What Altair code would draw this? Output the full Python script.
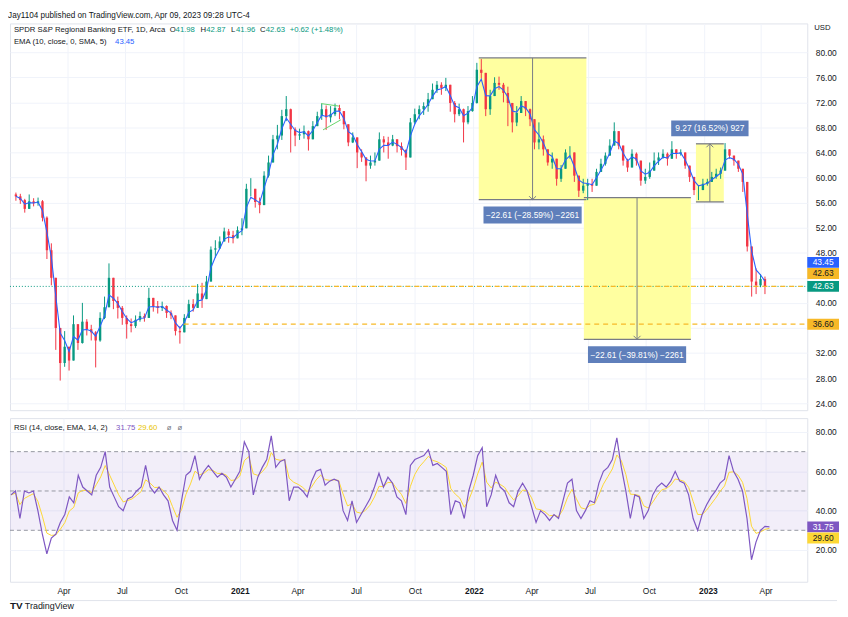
import altair as alt
import pandas as pd
import numpy as np

# ---------------- data (weekly bars) ----------------
first_date = "2020-01-10"
first_open = 57.3
close = [
    57.0, 56.4, 55.0, 56.2, 55.9, 56.2, 53.6, 48.4, 44.0, 36.0,
    30.4, 33.0, 30.8, 36.6, 33.6, 37.0, 35.8, 35.3, 34.0, 37.6,
    39.3, 44.0, 40.3, 39.2, 37.6, 36.6, 36.3, 37.3, 37.9, 37.6,
    40.8, 39.5, 39.2, 39.5, 38.4, 38.0, 35.5, 35.3, 37.6, 39.8,
    39.2, 41.5, 40.6, 43.4, 48.5, 48.7, 49.8, 51.4, 50.8, 50.3,
    51.6, 51.9, 58.2, 58.2, 56.1, 55.6, 60.3, 62.4, 66.1, 66.7,
    69.8, 70.9, 67.7, 66.7, 66.9, 67.4, 66.1, 68.2, 69.8, 70.9,
    69.6, 70.1, 71.1, 70.6, 68.5, 65.6, 66.4, 64.0, 63.2, 61.9,
    62.4, 62.7, 66.1, 65.6, 65.1, 66.1, 65.0, 64.4, 63.2, 68.8,
    70.1, 70.9, 71.4, 72.5, 74.0, 74.8, 74.3, 74.8, 71.9, 70.1,
    70.9, 68.8, 70.6, 71.9, 77.2, 76.7, 70.9, 73.0, 75.1, 74.8,
    73.5, 71.9, 68.8, 70.3, 72.2, 70.9, 69.3, 65.6, 66.1, 64.5,
    62.4, 63.0, 59.8, 61.4, 64.0, 64.0, 60.3, 57.9, 58.7, 59.0,
    58.7, 60.9, 62.2, 63.5, 65.1, 67.4, 65.1, 62.7, 61.6, 63.8,
    62.7, 59.5, 60.1, 61.1, 62.7, 63.2, 63.8, 63.0, 64.5, 63.8,
    64.0, 61.9, 60.1, 58.0, 58.0, 59.0, 59.3, 60.1, 60.6, 61.1,
    64.5, 63.5, 62.7, 61.4, 59.3, 49.0, 43.4, 42.8, 43.8, 42.63,
]
high = [
    57.6, 57.4, 56.6, 57.3, 56.7, 56.8, 56.4, 53.8, 49.5, 44.0,
    35.0, 35.5, 33.0, 38.0, 36.5, 40.0, 37.4, 36.5, 35.5, 38.5,
    41.0, 46.3, 42.5, 41.0, 39.5, 38.0, 37.5, 38.0, 38.6, 38.3,
    42.4, 40.8, 40.3, 40.2, 39.6, 38.8, 37.9, 36.3, 38.2, 40.5,
    40.6, 43.0, 43.2, 44.3, 49.0, 50.0, 50.6, 52.0, 51.8, 51.5,
    52.2, 53.5, 59.0, 59.9, 58.0, 56.8, 61.0, 63.5, 66.8, 68.4,
    70.8, 73.0, 71.0, 68.0, 67.8, 68.3, 67.5, 69.0, 70.5, 71.8,
    71.5, 71.4, 71.8, 71.6, 70.5, 67.7, 67.2, 65.6, 64.5, 63.0,
    63.5, 64.0, 67.2, 66.6, 66.5, 66.8, 66.0, 65.6, 64.5, 69.5,
    71.0, 71.5, 72.0, 73.5, 75.0, 75.4, 75.2, 75.9, 74.8, 72.2,
    71.8, 71.0, 71.4, 73.0, 78.3, 78.9, 75.0, 74.0, 76.0, 76.1,
    75.1, 74.5, 71.9, 71.4, 73.0, 72.0, 71.0, 67.5, 68.8, 66.7,
    64.0, 64.0, 61.4, 62.0, 64.5, 65.0, 62.5, 59.8, 59.8, 59.8,
    59.8, 61.4, 63.0, 64.0, 66.1, 68.8, 67.0, 65.0, 63.0, 64.5,
    64.0, 61.4, 61.4, 62.4, 64.0, 64.0, 64.5, 64.0, 65.8, 64.5,
    64.5, 63.5, 61.4, 59.3, 58.8, 59.8, 59.8, 60.9, 61.4, 61.6,
    65.5, 64.5, 63.5, 62.4, 61.4, 57.0, 49.0, 45.5, 44.6, 44.2,
]
low = [
    56.3, 55.8, 54.4, 55.3, 55.4, 55.5, 53.0, 47.0, 42.8, 32.5,
    27.6, 29.8, 29.2, 31.0, 32.5, 33.5, 34.8, 34.0, 29.7, 33.8,
    37.4, 40.5, 39.0, 37.5, 36.5, 34.3, 35.3, 36.0, 37.0, 37.0,
    37.9, 38.6, 38.3, 38.7, 37.6, 37.4, 34.8, 33.5, 35.3, 38.0,
    38.6, 40.0, 39.2, 42.0, 44.5, 47.2, 48.6, 50.0, 49.6, 49.5,
    50.4, 50.8, 54.5, 57.0, 55.2, 54.3, 56.5, 60.0, 63.6, 64.5,
    66.0, 69.0, 64.0, 65.0, 66.0, 66.2, 64.3, 66.5, 68.2, 69.2,
    67.6, 68.8, 69.8, 69.3, 67.7, 65.0, 65.5, 61.5, 62.5, 59.4,
    61.4, 61.9, 64.5, 64.0, 63.0, 65.0, 64.0, 63.5, 61.2, 63.5,
    68.5, 69.3, 70.0, 70.5, 72.8, 73.5, 73.2, 73.8, 70.5, 68.8,
    69.8, 65.6, 68.5, 70.5, 71.8, 75.8, 69.8, 70.0, 73.5, 74.0,
    72.0, 68.2, 67.2, 68.2, 70.9, 69.8, 68.2, 64.5, 64.5, 63.5,
    61.9, 61.4, 58.7, 59.3, 62.5, 63.0, 59.3, 56.9, 57.5, 56.4,
    57.7, 58.7, 60.9, 61.9, 64.0, 66.7, 64.5, 61.9, 60.9, 62.4,
    61.9, 58.7, 59.0, 59.8, 61.4, 62.0, 63.0, 61.9, 63.5, 63.0,
    63.5, 61.4, 59.3, 57.2, 56.4, 58.2, 58.7, 59.3, 59.8, 59.8,
    61.4, 63.0, 61.9, 60.9, 57.7, 48.2, 41.0, 41.4, 42.5, 41.4,
]
rsi = [
    48, 50, 36, 50, 49, 50, 40, 28, 18, 26,
    28, 34, 38, 47, 44, 58, 52, 50, 48, 58,
    62, 70, 52, 47, 42, 40, 46, 47, 50, 52,
    63, 52, 49, 52, 48, 45, 35, 30, 45, 58,
    60, 68, 56, 60, 63, 60, 57, 59, 57, 52,
    56, 60, 75, 70, 48, 57, 62, 66, 78, 62,
    65, 66, 45, 52, 52, 50, 47, 55, 60, 61,
    53, 55, 56, 55, 40, 35, 45, 34, 38, 42,
    46, 52, 59, 52, 57, 54, 47, 45, 38, 63,
    66, 67, 68, 71, 63, 64, 62, 60, 38, 45,
    44, 36, 50, 58, 68, 72, 42, 48, 58, 52,
    50, 44, 42, 50, 54, 50, 42, 34, 40, 38,
    35, 38, 36, 45, 54, 56, 40, 36, 40, 45,
    44, 54, 60, 62, 66, 77, 62, 50, 36, 48,
    47, 36, 40, 48, 52, 54, 52, 55, 60, 55,
    54, 48, 36, 30, 38, 43, 47, 50, 54, 56,
    68, 60, 56, 50, 36, 15, 24, 30, 32, 31.75,
]

# measuring tools (date/price range)
range_start = ["2022-01-10", "2022-06-25", "2022-12-19"]
range_end = ["2022-06-29", "2022-12-11", "2023-02-01"]
range_from = [79.08, 56.80, 56.11]
range_to = [56.47, 34.19, 65.38]
range_text = ["\u221222.61 (\u221228.59%) \u22122261",
              "\u221222.61 (\u221239.81%) \u22122261",
              "9.27 (16.52%) 927"]

# horizontal rays
ray_levels = [42.63, 36.60]
ray_starts = ["2020-10-13", "2020-10-01"]
last_close = 42.63

# small green wedge drawing
wedge_x1 = ["2021-05-06", "2021-05-09"]
wedge_x2 = ["2021-06-03", "2021-06-06"]
wedge_y1 = [71.8, 67.6]
wedge_y2 = [71.4, 69.2]

rsi_levels = [70, 50, 30]

# ---------------- styling ----------------
FONT = "Liberation Sans"
FS = 8.5
HFS = 7.8
W, H1, H2 = 804, 390, 165
UP, DOWN = "#089981", "#f23645"
TEXT = "#131722"
GRID = "#f0f3fa"
BLUE = "#2962ff"
PURPLE = "#7e57c2"
YELLOW = "#fdd835"
GOLD = "#f7b928"
TOOL = "#787b86"

dates = pd.date_range(first_date, periods=len(close), freq="W-FRI")
opens = [first_open] + close[:-1]
df = pd.DataFrame({
    "date": dates.strftime("%Y-%m-%d"),
    "open": opens,
    "close": close,
})
df["high"] = np.maximum(np.array(high), np.maximum(df["open"], df["close"]))
df["low"] = np.minimum(np.array(low), np.minimum(df["open"], df["close"]))
df["ema"] = pd.Series(close).ewm(alpha=0.55, adjust=False).mean()
df["rsi"] = rsi
df["rsi_ma"] = pd.Series(rsi).ewm(alpha=0.45, adjust=False).mean()

XS = alt.Scale(type="utc", domain=[
    alt.DateTime(year=2020, month=1, date=8, hours=12, utc=True),
    alt.DateTime(year=2023, month=6, date=5, utc=True)])
quarters = [alt.DateTime(year=y, month=m, date=1, utc=True)
            for y in (2020, 2021, 2022, 2023) for m in (1, 4, 7, 10)
            if not (y == 2020 and m == 1) and not (y == 2023 and m > 4)]
XAX_TOP = alt.Axis(values=quarters, labels=False, ticks=False, domain=False,
                   grid=True, gridColor=GRID, title=None)
XAX_BOT = alt.Axis(values=quarters, ticks=False, tickSize=0, domain=False, grid=True,
                   gridColor=GRID, title=None, labelPadding=5, labelFlush=False,
                   labelExpr="utcFormat(datum.value, '%m') == '01' ? utcFormat(datum.value, '%Y') : utcFormat(datum.value, '%b')",
                   labelFontWeight={"condition": {"test": "utcFormat(datum.value, '%m') == '01'", "value": "bold"}, "value": "normal"})

YS = alt.Scale(domain=[22.88, 84.59], nice=False, zero=False)
YAX = alt.Axis(orient="right", values=list(range(24, 84, 4)), ticks=False, tickSize=0,
               domain=False, grid=True, gridColor=GRID, title=None, labelPadding=8,
               labelFlush=False,
               labelExpr="datum.value == 36 || datum.value == 44 ? '' : format(datum.value, '.2f')")
YR = alt.Scale(domain=[3.85, 87.06], nice=False, zero=False)
YRAX = alt.Axis(orient="right", values=[20, 40, 60, 80], format=".2f", ticks=False,
                tickSize=0, domain=False, grid=True, gridColor=GRID, title=None,
                labelPadding=8, labelFlush=False)


def X(field):
    return alt.X(field, type="temporal", scale=XS, axis=XAX_TOP)


def XB(field):
    return alt.X(field, type="temporal", scale=XS, axis=XAX_BOT)


def Y(field):
    return alt.Y(field, type="quantitative", scale=YS, axis=YAX)


def YRr(field):
    return alt.Y(field, type="quantitative", scale=YR, axis=YRAX)


def txt(s, x, y, color=TEXT, size=HFS, weight="normal", align="left"):
    return alt.Chart(pd.DataFrame({"t": [s]})).mark_text(
        align=align, baseline="middle", font=FONT, fontSize=size,
        fontWeight=weight, color=color).encode(
        x=alt.value(x), y=alt.value(y), text="t:N")


def rect_path(w, h):
    r = h / w
    return f"M-1,-{r:.3f}L1,-{r:.3f}L1,{r:.3f}L-1,{r:.3f}Z"


def badge(value, yenc, yoff, bg, fg, w=32, h=11):
    base = alt.Chart(pd.DataFrame({"v": [value], "t": [f"{value:.2f}"]}))
    box = base.mark_point(shape=rect_path(w, h), size=w * w, filled=True,
                          color=bg, opacity=1, strokeWidth=0, yOffset=yoff).encode(
        x=alt.value(W + w / 2), y=yenc("v"))
    lab = base.mark_text(font=FONT, fontSize=FS, color=fg, align="center",
                         baseline="middle", yOffset=yoff).encode(
        x=alt.value(W + w / 2), y=yenc("v"), text="t:N")
    return [box, lab]


base = alt.Chart(df)
cond = alt.condition("datum.close >= datum.open", alt.value(UP), alt.value(DOWN))

# ---------- measuring tools ----------
rng = pd.DataFrame({"x1": range_start, "x2": range_end,
                    "p_from": range_from, "p_to": range_to, "label": range_text})
mid = pd.to_datetime(rng["x1"]) + (pd.to_datetime(rng["x2"]) - pd.to_datetime(rng["x1"])) / 2
rng["xm"] = mid.dt.strftime("%Y-%m-%d")
rng_down = rng[rng["p_to"] < rng["p_from"]]
rng_up = rng[rng["p_to"] > rng["p_from"]]

fill = alt.Chart(rng).mark_rect(color="#ffffa0").encode(
    x=X("x1"), x2="x2:T", y=Y("p_from"), y2="p_to:Q")
top_line = alt.Chart(rng).mark_rule(color=TOOL, strokeWidth=1.3).encode(
    x=X("x1"), x2="x2:T", y=Y("p_from"))
bot_line = alt.Chart(rng).mark_rule(color=TOOL, strokeWidth=1.3).encode(
    x=X("x1"), x2="x2:T", y=Y("p_to"))
arrow = alt.Chart(rng).mark_rule(color=TOOL, strokeWidth=1).encode(
    x=X("xm"), y=Y("p_from"), y2="p_to:Q")
head_down = alt.Chart(rng_down).mark_point(
    shape="M-1,-1L0,0L1,-1", size=49, filled=False, color=TOOL, strokeWidth=1,
    opacity=1).encode(x=X("xm"), y=Y("p_to"))
head_up = alt.Chart(rng_up).mark_point(
    shape="M-1,1L0,0L1,1", size=49, filled=False, color=TOOL, strokeWidth=1,
    opacity=1).encode(x=X("xm"), y=Y("p_to"))

label_layers = []
for i, row in rng.iterrows():
    down = row["p_to"] < row["p_from"]
    w = 99 if len(row["label"]) > 18 else 78
    h = 17 if w == 99 else 16
    yoff = 15.5 if down else -15.5
    one = alt.Chart(rng.iloc[[i]])
    label_layers.append(one.mark_point(
        shape=rect_path(w, h), size=w * w, filled=True, color="#5f7fbb",
        opacity=1, strokeWidth=0, yOffset=yoff).encode(x=X("xm"), y=Y("p_to")))
    label_layers.append(one.mark_text(
        font=FONT, fontSize=FS, color="white", align="center", baseline="middle",
        yOffset=yoff).encode(x=X("xm"), y=Y("p_to"), text="label:N"))

# ---------- rays and drawings ----------
rays = pd.DataFrame({"level": ray_levels, "start": ray_starts})
ray_rule = alt.Chart(rays).mark_rule(color=GOLD, strokeDash=[5, 4], strokeWidth=1.2).encode(
    x=X("start"), x2=alt.value(W), y=Y("level"))
price_line = alt.Chart(pd.DataFrame({"v": [last_close]})).mark_rule(
    color=UP, strokeDash=[1, 2], strokeWidth=1).encode(
    x=alt.value(0), x2=alt.value(W), y=Y("v"))
wedge = alt.Chart(pd.DataFrame({"x1": wedge_x1, "x2": wedge_x2, "y1": wedge_y1, "y2": wedge_y2})
                  ).mark_rule(color="#66d46a", strokeWidth=1).encode(
    x=X("x1"), x2="x2:T", y=Y("y1"), y2="y2:Q")

# ---------- candles ----------
wick = base.mark_rule(strokeWidth=1).encode(x=X("date"), y=Y("low"), y2="high:Q", color=cond)
body = base.mark_bar(size=2.4).encode(x=X("date"), y=Y("open"), y2="close:Q", color=cond)
ema_line = base.mark_line(color=BLUE, strokeWidth=1.1).encode(x=X("date"), y=Y("ema"))

header = [
    txt("SPDR S&P Regional Banking ETF, 1D, Arca", 4, 7),
    txt("O", 161, 7), txt("41.98", 167, 7, UP),
    txt("H", 192, 7), txt("42.87", 198, 7, UP),
    txt("L", 223, 7), txt("41.96", 228, 7, UP),
    txt("C", 252, 7), txt("42.63", 258, 7, UP),
    txt("+0.62 (+1.48%)", 282, 7, UP),
    txt("EMA (10, close, 0, SMA, 5)", 4, 19),
    txt("43.45", 106, 19, BLUE),
    txt("USD", 811, 5),
]

badges = (badge(43.45, Y, -19, BLUE, "white")
          + badge(42.63, Y, -13, GOLD, TEXT)
          + badge(42.63, Y, 0, UP, "white")
          + badge(36.60, Y, 0, GOLD, TEXT))

price = alt.layer(
    fill, wick, body, ema_line, price_line, ray_rule, wedge,
    top_line, bot_line, arrow, head_down, head_up,
    *label_layers, *header, *badges
).properties(width=W, height=H1)

# ---------- RSI panel ----------
band = alt.Chart(pd.DataFrame({"lo": [30], "hi": [70]})).mark_rect(
    color=PURPLE, opacity=0.1).encode(
    x=alt.value(0), x2=alt.value(W), y=YRr("lo"), y2="hi:Q")
lv = alt.Chart(pd.DataFrame({"lv": rsi_levels})).mark_rule(
    color="#9598a1", strokeDash=[4, 3], strokeWidth=1).encode(
    x=alt.value(0), x2=alt.value(W), y=YRr("lv"))
frame = alt.Chart(pd.DataFrame({"t": [0]})).mark_rule(color="#e0e3eb", strokeWidth=1).encode(
    x=alt.value(0), x2=alt.value(W + 30), y=alt.value(H2 + 19))
rbase = alt.Chart(df)
rsi_ma_line = rbase.mark_line(color=YELLOW, strokeWidth=1).encode(x=XB("date"), y=YRr("rsi_ma"))
rsi_line = rbase.mark_line(color=PURPLE, strokeWidth=1.2).encode(x=XB("date"), y=YRr("rsi"))
rsi_header = [
    txt("RSI (14, close, EMA, 14, 2)", 4, 10),
    txt("31.75", 107, 10, PURPLE),
    txt("29.60", 129, 10, "#e8c400"),
    txt("\u00f8", 158, 10, TOOL),
    txt("\u00f8", 169, 10, TOOL),
    txt("TV", 0, H2 + 25, TEXT, size=10, weight="bold"),
    txt("TradingView", 15, H2 + 25, TEXT, size=9),
]
rsi_badges = badge(31.75, YRr, 0, PURPLE, "white") + badge(29.60, YRr, 7, YELLOW, TEXT)

rsi_panel = alt.layer(band, lv, frame, rsi_ma_line, rsi_line, *rsi_header, *rsi_badges
                      ).properties(width=W, height=H2)

chart = alt.vconcat(price, rsi_panel, spacing=6).properties(
    title=alt.TitleParams("Jay1104 published on TradingView.com, Apr 09, 2023 09:28 UTC-4",
                          anchor="start", font=FONT, fontSize=8.2, fontWeight="normal",
                          color=TEXT, offset=3),
    padding=0,
).configure_view(stroke="#e0e3eb", strokeWidth=1).configure_axis(
    labelFont=FONT, labelFontSize=FS, labelColor=TEXT)

chart.save("out.html", embed_options={"renderer": "svg", "actions": False})
